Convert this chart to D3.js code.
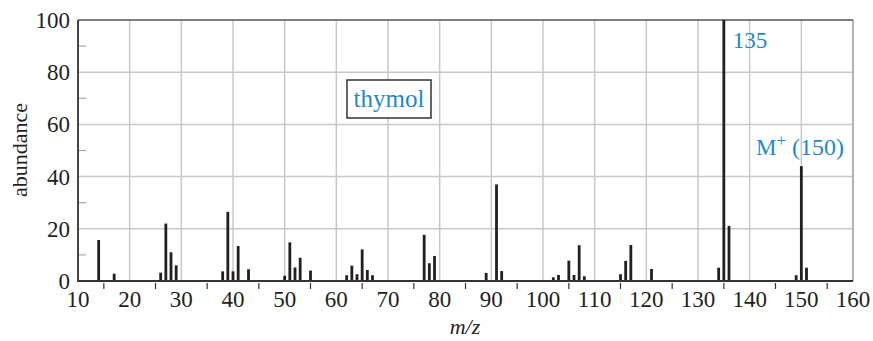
<!DOCTYPE html>
<html><head><meta charset="utf-8">
<script src="https://cdn.jsdelivr.net/npm/d3@7"></script>
<style>
body{margin:0;background:#fff;}
</style></head>
<body>
<svg id="chart" width="873" height="341"></svg>
<script>
const mz = [14,17,26,27,28,29,38,39,40,41,43,50,51,52,53,55,62,63,64,65,66,67,77,78,79,89,91,92,102,103,105,106,107,108,115,116,117,121,134,135,136,149,150,151];
const abundance = [15.7,2.8,3.2,22,11,6,3.7,26.5,3.7,13.4,4.5,2,14.8,5.2,8.9,4,2.2,5.9,2.6,12.1,4.2,2.2,17.7,6.8,9.6,3.1,37,3.8,1.4,2.3,7.8,2.3,13.7,1.8,2.6,7.7,13.8,4.6,5.1,100,21.1,2.2,44,5.1];
const xTicks = [10,20,30,40,50,60,70,80,90,100,110,120,130,140,150,160];
const xMinor = [15,25,35,45,55,65,75,85,95,105,115,125,135,145,155];
const yTicks = [0,20,40,60,80,100];
const yMinor = [10,30,50,70,90];
const compoundLabel = "thymol";
const peakLabels = [{text:"135"},{text:"M",sup:"+",rest:"(150)"}];

const svg = d3.select("#chart");
const L=78, R=853, T=20, B=281;
const x = d3.scaleLinear().domain([10,160]).range([L,R]);
const y = d3.scaleLinear().domain([0,100]).range([B,T]);
const blue = "#1f88c9";
const FONT = '"Liberation Serif", "Times New Roman", Times, serif';

// gridlines
svg.append("g").selectAll("line").data(xTicks.slice(1,-1)).join("line")
  .attr("x1",d=>x(d)).attr("x2",d=>x(d)).attr("y1",T).attr("y2",B)
  .attr("stroke","#c8c8c8").attr("stroke-width",1.5);
svg.append("g").selectAll("line").data(yTicks.slice(1,-1)).join("line")
  .attr("y1",d=>y(d)).attr("y2",d=>y(d)).attr("x1",L).attr("x2",R)
  .attr("stroke","#c8c8c8").attr("stroke-width",1.5);
// y minor ticks
svg.append("g").selectAll("line").data(yMinor).join("line")
  .attr("y1",d=>y(d)).attr("y2",d=>y(d)).attr("x1",L).attr("x2",L+8)
  .attr("stroke","#aaa").attr("stroke-width",1.2);
// frame
svg.append("line").attr("x1",R).attr("x2",R).attr("y1",T).attr("y2",B).attr("stroke","#999").attr("stroke-width",1.5);
svg.append("line").attr("x1",L).attr("x2",R).attr("y1",T).attr("y2",T).attr("stroke","#555").attr("stroke-width",1.5);

// bars
svg.append("g").selectAll("rect").data(mz.map((m,i)=>({m,v:abundance[i]}))).join("rect")
  .attr("x",d=>x(d.m)-1.4).attr("width",2.8)
  .attr("y",d=>y(d.v)).attr("height",d=>B-y(d.v))
  .attr("fill","#231f20");

// axes lines
svg.append("line").attr("x1",L).attr("x2",L).attr("y1",T).attr("y2",B+1).attr("stroke","#333").attr("stroke-width",1.8);
svg.append("line").attr("x1",L).attr("x2",R).attr("y1",B).attr("y2",B).attr("stroke","#333").attr("stroke-width",1.8);

// x minor ticks (below axis)
svg.append("g").selectAll("line").data(xMinor).join("line")
  .attr("x1",d=>x(d)).attr("x2",d=>x(d)).attr("y1",B+2).attr("y2",B+8)
  .attr("stroke","#333").attr("stroke-width",1.2);

// tick labels
svg.append("g").selectAll("text").data(xTicks).join("text")
  .attr("x",d=>x(d)).attr("y",307).attr("text-anchor","middle")
  .attr("font-size",23).attr("fill","#231f20").text(d=>d);
svg.append("g").selectAll("text").data(yTicks).join("text")
  .attr("x",70).attr("y",d=>y(d)+8).attr("text-anchor","end")
  .attr("font-size",23).attr("fill","#231f20").text(d=>d);

// axis titles
svg.append("text").attr("transform","translate(27,150) rotate(-90)").attr("text-anchor","middle")
  .attr("font-size",22).attr("fill","#231f20").text("abundance");
svg.append("text").attr("x",465).attr("y",334).attr("text-anchor","middle")
  .attr("font-size",22).attr("font-style","italic").attr("fill","#231f20").text("m/z");

// compound label box
svg.append("rect").attr("x",347).attr("y",80).attr("width",84).attr("height",38)
  .attr("fill","#fff").attr("stroke","#333").attr("stroke-width",1.5);
svg.append("text").attr("x",389).attr("y",107).attr("text-anchor","middle")
  .attr("font-size",25).attr("fill",blue).text(compoundLabel);

// peak labels
svg.append("text").attr("x",x(135)+9).attr("y",48).attr("font-size",23).attr("fill",blue).text(peakLabels[0].text);
const mt = svg.append("text").attr("x",756).attr("y",155).attr("font-size",23).attr("fill",blue);
mt.append("tspan").text(peakLabels[1].text);
mt.append("tspan").attr("dy",-9).attr("font-size",17).text(peakLabels[1].sup);
mt.append("tspan").attr("x",792).attr("dy",9).attr("font-size",24).text(peakLabels[1].rest);

svg.selectAll("text").style("font-family", FONT);
</script>
</body></html>
